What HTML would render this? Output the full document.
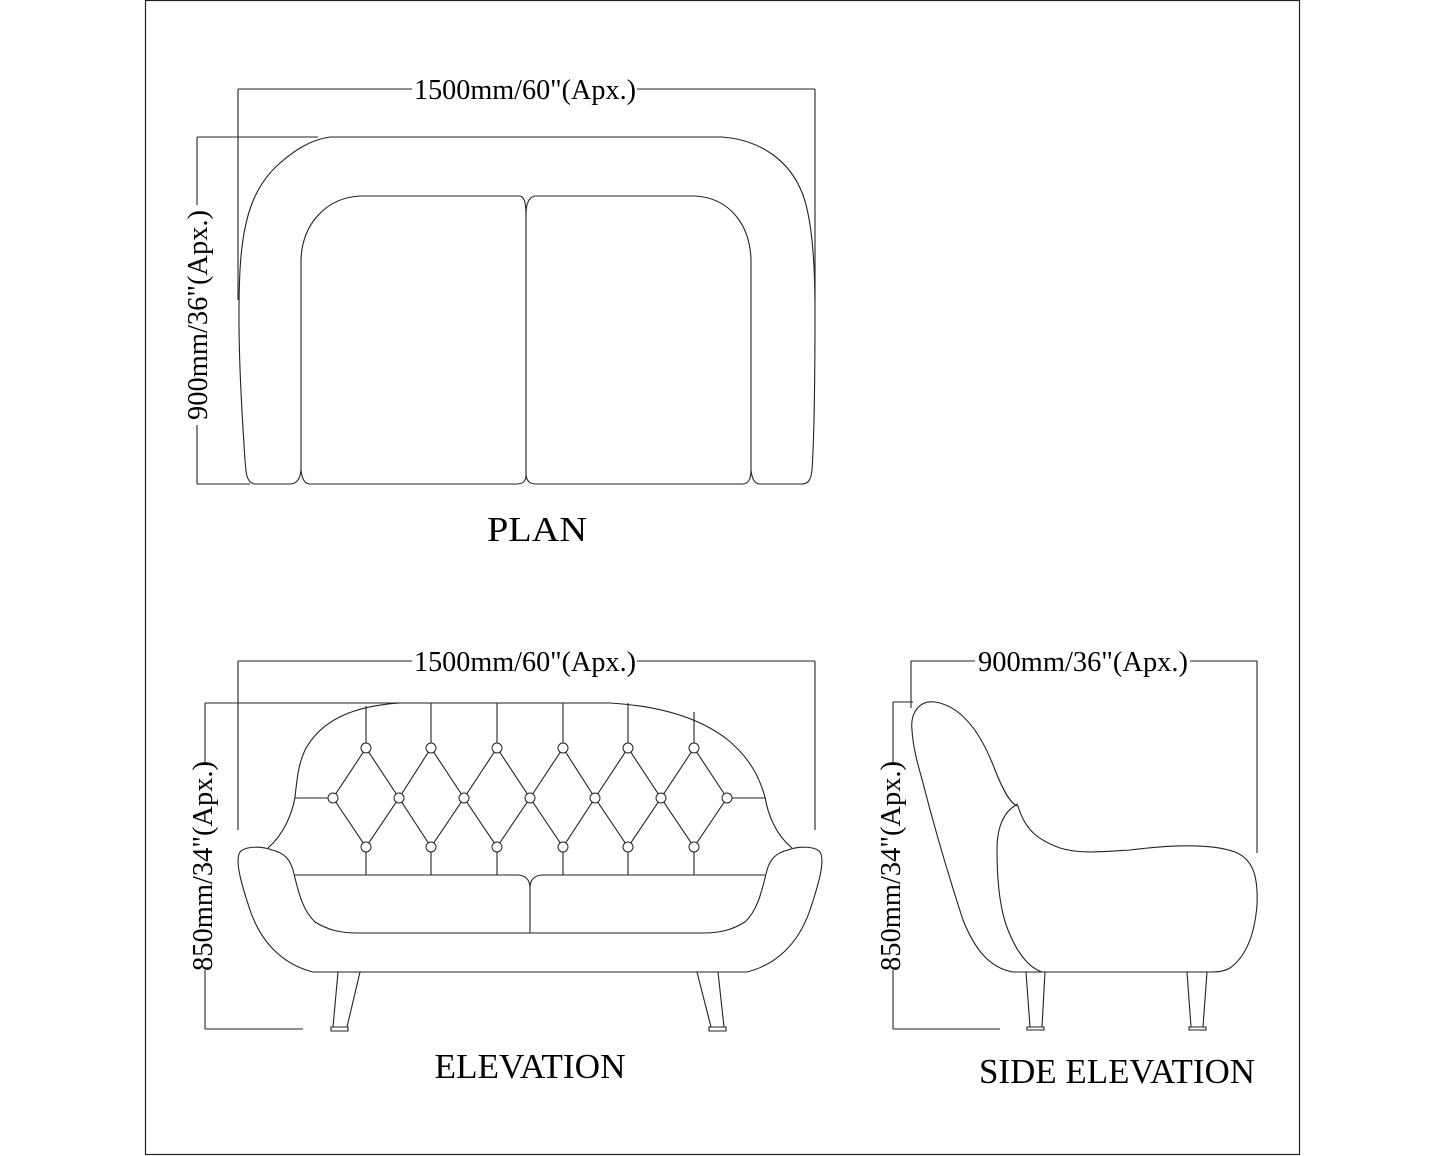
<!DOCTYPE html>
<html><head><meta charset="utf-8"><style>
html,body{margin:0;padding:0;background:#fff;}
svg{display:block;}
text{font-family:"Liberation Serif",serif;fill:#000;}
</style></head><body>
<svg width="1445" height="1156" viewBox="0 0 1445 1156" xmlns="http://www.w3.org/2000/svg">
<rect x="145.5" y="0.5" width="1154" height="1154" fill="none" stroke="#222" stroke-width="1.2"/>
<g fill="none" stroke="#222" stroke-width="1.1">
<!-- PLAN dims -->
<line x1="238" y1="89" x2="412" y2="89"/><line x1="637" y1="89" x2="815" y2="89"/>
<line x1="238" y1="89" x2="238" y2="300"/><line x1="815" y1="89" x2="815" y2="300"/>
<line x1="197" y1="137" x2="318" y2="137"/><line x1="197" y1="484" x2="250" y2="484"/>
<line x1="197" y1="137" x2="197" y2="205"/><line x1="197" y1="425" x2="197" y2="484"/>
<!-- plan outer -->
<path d="M254,484 C247,482 246,475 245,460 C241,400 237,330 240,270 C243,215 255,185 280,163 C295,150 310,140 330,137 L722,137 C760,140 790,160 803,195 C812,220 815,260 815,310 C815,380 814,440 812,470 C811,480 808,484 802,484 L760,484 C755,484 752,480 751,470"/>
<path d="M254,484 L290,484 C296,484 300,480 301,470"/>
<path d="M301,470 L301,260 C302,225 325,198 360,196 L520,196 C525,197 526,205 526,215 L526,475 C526,482 522,484 516,484 L310,484 C305,484 302,480 301,470"/>
<path d="M526,215 C526,205 528,197 535,196 L695,196 C730,198 750,225 751,260 L751,470 C751,480 748,484 742,484 L537,484 C530,484 527,482 526,475"/>
<!-- ELEVATION dims -->
<line x1="238" y1="661" x2="412" y2="661"/><line x1="637" y1="661" x2="815" y2="661"/>
<line x1="238" y1="661" x2="238" y2="830"/><line x1="815" y1="661" x2="815" y2="830"/>
<line x1="205" y1="703" x2="400" y2="703"/><line x1="205" y1="1029" x2="303" y2="1029"/>
<line x1="205" y1="703" x2="205" y2="765"/><line x1="205" y1="970" x2="205" y2="1029"/>
<!-- backrest -->
<path d="M268,848 C283,835 292,815 295,797 C297,780 298,765 305,750 C320,722 350,706 400,703 L610,703 C660,706 700,718 728,740 C752,760 760,780 765,797 C768,815 776,835 792,848"/>
<line x1="295" y1="798" x2="328" y2="798"/><line x1="732" y1="798" x2="765" y2="798"/>
<line x1="295" y1="875" x2="519" y2="875"/><line x1="541" y1="875" x2="765" y2="875"/>
<path d="M519,875 C526,876 530,880 530,888 C530,880 534,876 541,875"/>
<line x1="530" y1="888" x2="530" y2="933"/>
<line x1="358" y1="933" x2="703" y2="933"/>
<!-- arms -->
<path d="M313,972 C285,965 262,945 250,910 C240,880 235,860 240,852 C245,846 262,846 272,850 C285,853 290,860 293,870 C298,890 302,910 315,922 C328,930 340,933 358,933"/>
<path d="M747,972 C775,965 798,945 810,910 C820,880 825,860 820,852 C815,846 798,846 788,850 C775,853 770,860 767,870 C762,890 758,910 745,922 C732,930 720,933 703,933"/>
<line x1="313" y1="972" x2="747" y2="972"/>
<!-- legs -->
<path d="M338,972 L333,1027 M360,972 L347,1027 M331,1027 L348,1027 L348,1031 L331,1031 Z"/>
<path d="M697,972 L711,1027 M718,972 L724,1027 M709,1027 L726,1027 L726,1031 L709,1031 Z"/>
<!-- SIDE dims -->
<line x1="911" y1="661" x2="975" y2="661"/><line x1="1190" y1="661" x2="1257" y2="661"/>
<line x1="911" y1="661" x2="911" y2="708"/><line x1="1257" y1="661" x2="1257" y2="853"/>
<line x1="893" y1="702" x2="913" y2="702"/><line x1="893" y1="1029" x2="1000" y2="1029"/>
<line x1="893" y1="702" x2="893" y2="765"/><line x1="893" y1="970" x2="893" y2="1029"/>
<path d="M912,730 C910,712 920,700 935,702 C960,706 980,730 995,770 C1005,795 1012,805 1018,806 C1025,830 1038,840 1060,848 C1080,854 1100,852 1130,850 C1170,845 1210,843 1235,852 C1255,860 1258,880 1257,905 C1255,930 1248,955 1230,968 C1225,971 1220,972 1213,972 L1013,972 C990,968 975,950 963,920 C950,880 935,830 923,783 C918,765 913,748 912,730 Z"/>
<path d="M1018,804 C1005,810 997,825 997,850 C997,880 1000,910 1008,930 C1018,955 1030,968 1042,972"/>
<path d="M1026,972 L1030,1027 M1045,972 L1042,1027 M1027,1027 L1044,1027 L1044,1030 L1027,1030 Z"/>
<path d="M1187,972 L1191,1027 M1207,972 L1203,1027 M1189,1027 L1206,1027 L1206,1030 L1189,1030 Z"/>
</g>
<g stroke="#222" stroke-width="1.1">
<line x1="366" y1="706" x2="366" y2="743"/><line x1="431" y1="703" x2="431" y2="743"/><line x1="497" y1="703" x2="497" y2="743"/><line x1="563" y1="703" x2="563" y2="743"/><line x1="628" y1="703" x2="628" y2="743"/><line x1="694" y1="712" x2="694" y2="743"/>
<line x1="366" y1="852" x2="366" y2="875"/><line x1="431" y1="852" x2="431" y2="875"/><line x1="497" y1="852" x2="497" y2="875"/><line x1="563" y1="852" x2="563" y2="875"/><line x1="628" y1="852" x2="628" y2="875"/><line x1="694" y1="852" x2="694" y2="875"/>
<polyline fill="none" points="333,798 366,748 399,798 431,748 464,798 497,748 530,798 563,748 595,798 628,748 661,798 694,748 727,798"/>
<polyline fill="none" points="333,798 366,847 399,798 431,847 464,798 497,847 530,798 563,847 595,798 628,847 661,798 694,847 727,798"/>
</g>
<g fill="#fff" stroke="#222" stroke-width="1">
<circle cx="366" cy="748" r="5"/><circle cx="431" cy="748" r="5"/><circle cx="497" cy="748" r="5"/><circle cx="563" cy="748" r="5"/><circle cx="628" cy="748" r="5"/><circle cx="694" cy="748" r="5"/>
<circle cx="333" cy="798" r="5"/><circle cx="399" cy="798" r="5"/><circle cx="464" cy="798" r="5"/><circle cx="530" cy="798" r="5"/><circle cx="595" cy="798" r="5"/><circle cx="661" cy="798" r="5"/><circle cx="727" cy="798" r="5"/>
<circle cx="366" cy="847" r="5"/><circle cx="431" cy="847" r="5"/><circle cx="497" cy="847" r="5"/><circle cx="563" cy="847" r="5"/><circle cx="628" cy="847" r="5"/><circle cx="694" cy="847" r="5"/>
</g>
<g font-size="28">
<text x="525" y="99" text-anchor="middle" textLength="222" lengthAdjust="spacingAndGlyphs">1500mm/60"(Apx.)</text>
<text x="525" y="671" text-anchor="middle" textLength="222" lengthAdjust="spacingAndGlyphs">1500mm/60"(Apx.)</text>
<text x="1083" y="671" text-anchor="middle" textLength="210" lengthAdjust="spacingAndGlyphs">900mm/36"(Apx.)</text>
<text transform="translate(207,315) rotate(-90)" text-anchor="middle" textLength="210" lengthAdjust="spacingAndGlyphs">900mm/36"(Apx.)</text>
<text transform="translate(212,866) rotate(-90)" text-anchor="middle" textLength="210" lengthAdjust="spacingAndGlyphs">850mm/34"(Apx.)</text>
<text transform="translate(900,866) rotate(-90)" text-anchor="middle" textLength="210" lengthAdjust="spacingAndGlyphs">850mm/34"(Apx.)</text>
</g>
<g font-size="35">
<text x="537" y="541" text-anchor="middle" textLength="100" lengthAdjust="spacingAndGlyphs">PLAN</text>
<text x="530" y="1078" text-anchor="middle" textLength="191" lengthAdjust="spacingAndGlyphs">ELEVATION</text>
<text x="1117" y="1083" text-anchor="middle" textLength="276" lengthAdjust="spacingAndGlyphs">SIDE ELEVATION</text>
</g>
</svg>
</body></html>
